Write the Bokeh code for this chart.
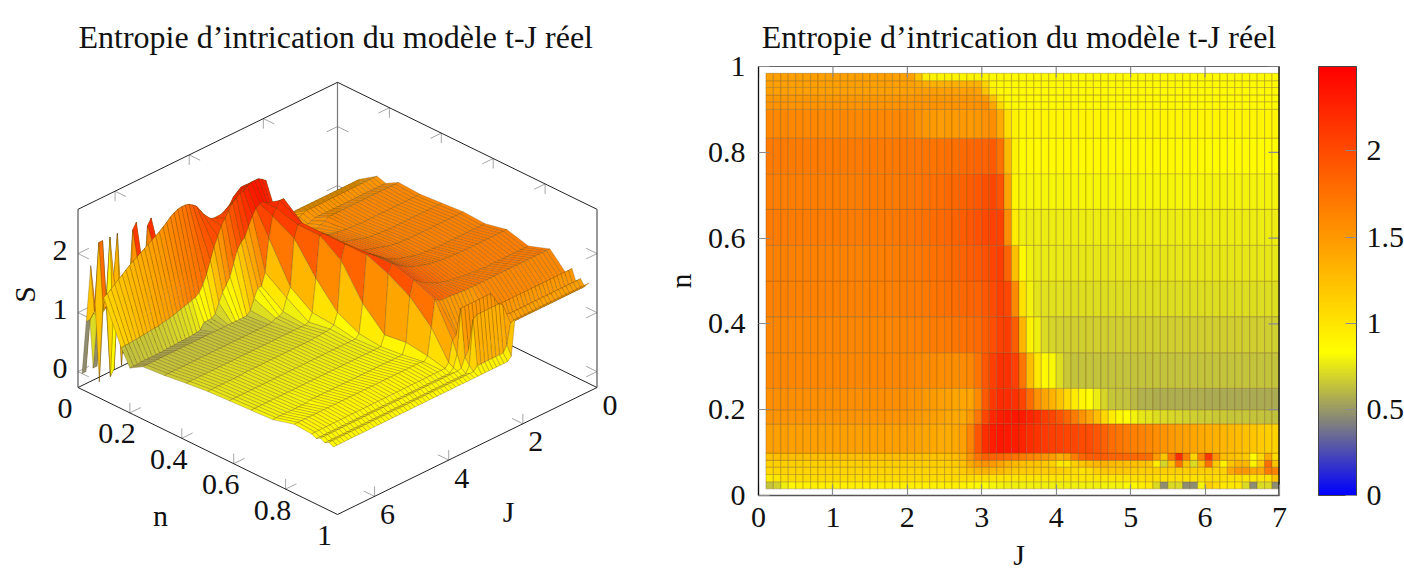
import numpy as np
from bokeh.plotting import figure
from bokeh.layouts import row
from bokeh.models import (ColumnDataSource, LinearColorMapper, ColorBar, FixedTicker, Range1d)
from bokeh.core.properties import value
from bokeh.embed import file_html
from bokeh.resources import INLINE

TITLE = "Entropie d’intrication du modèle t-J réel"
J_values = [0.1,0.2,0.3,0.4,0.5,0.6,0.7,0.8,0.9,1.0,1.1,1.2,1.3,1.4,1.5,1.6,1.7,1.8,1.9,2.0,
            2.1,2.2,2.3,2.4,2.5,2.6,2.7,2.8,2.9,3.0,3.1,3.2,3.3,3.4,3.5,3.6,3.7,3.8,3.9,4.0,
            4.1,4.2,4.3,4.4,4.5,4.6,4.7,4.8,4.9,5.0,5.1,5.2,5.3,5.4,5.5,5.6,5.7,5.8,5.9,6.0,
            6.1,6.2,6.3,6.4,6.5,6.6,6.7,6.8,6.9,7.0]
n_values = [0.0156,0.032,0.049,0.066,0.082,0.099,0.167,0.2,0.25,0.333,0.417,0.5,0.583,0.667,0.75,0.833,0.9,0.918,0.934,0.951,0.967,0.984]

S_n0156 = [.40,.42,.50,.70,.80,.82,.82,.84,.84,.84, .84,.84,.84,.84,.84,.84,.84,.84,.84,.84,
           .84,.84,.84,.84,.84,.84,.82,.82,.80,.78, .76,.76,.75,.75,.75,.75,.75,.75,.75,.75,
           .75,.75,.75,.75,.75,.76,.76,.76,.78,.78, .90,.95,.95,0,0,.95,0,0,0,1.3,
           1.3,.95,.95,.95,.95,0,0,.95,0,0]
S_n032 = [.85,.88,.95,1.0,1.02,1.02,1.02,1.02,1.02,1.02, 1.02,1.02,1.02,1.02,1.02,1.02,1.02,1.02,1.02,1.02,
          1.02,1.02,1.02,1.02,1.02,1.02,1.02,1.0,.95,.9, .85,.84,.83,.82,.82,.82,.82,.82,.82,.82,
          .82,.82,.82,.82,.82,.82,.82,.82,.82,.85, .95,.98,1.0,.92,.92,1.0,.92,.92,.92,1.0,
          1.0,1.0,1.0,1.0,1.0,.92,.92,1.0,.92,.92]
S_n049 = [1.02,1.05,1.08,1.1,1.1,1.1,1.1,1.1,1.1,1.1, 1.1,1.1,1.1,1.1,1.1,1.1,1.1,1.1,1.1,1.1,
          1.1,1.1,1.1,1.1,1.1,1.1,1.1,1.12,1.15,1.18, 1.18,1.18,1.18,1.18,1.18,1.18,1.18,1.18,1.18,1.18,
          1.18,1.18,1.18,1.18,1.18,1.18,1.18,1.18,1.18,1.15, 1.12,1.12,1.12,1.12,1.12,1.12,1.12,1.12,1.12,1.12,
          1.1,1.1,1.1,1.05,1.05,1.05,1.05,1.05,1.1,1.9]
S_n066 = [1.13,1.13,1.13,1.13,1.13,1.13,1.13,1.13,1.13,1.13, 1.13,1.13,1.13,1.13,1.13,1.13,1.13,1.13,1.13,1.13,
          1.13,1.13,1.13,1.13,1.13,1.13,1.15,1.3,1.4,1.45, 1.45,1.4,1.35,1.2,1.15,1.15,1.15,1.15,1.15,1.15,
          1.05,1.0,.85,.85,1.0,1.2,1.2,1.2,1.2,1.2, 1.15,1.15,1.15,1.15,1.15,1.15,1.15,1.15,1.15,1.15,
          1.15,1.15,1.15,2.3,1.6,2.3,1.2,2.3,2.3,1.3]
S_n082 = [1.12,1.15,1.15,1.15,1.15,1.15,1.15,1.15,1.15,1.15, 1.15,1.15,1.15,1.15,1.15,1.15,1.15,1.15,1.15,1.15,
          1.15,1.15,1.15,1.15,1.15,1.15,1.2,1.3,1.5,1.6, 1.6,1.5,1.45,1.4,1.35,1.3,1.3,1.25,1.2,1.0,
          .7,1.2,1.5,1.6,1.55,1.5,1.4,1.3,1.3,1.3, 1.3,1.3,1.25,.3,.2,2.35,2.25,.3,.25,2.4,
          2.3,.1,1.3,.1,1.25,.1,0,1.2,1.25,0]
S_n099 = [1.35,1.35,1.35,1.35,1.35,1.35,1.35,1.35,1.35,1.35, 1.35,1.35,1.35,1.35,1.35,1.35,1.35,1.35,1.35,1.35,
          1.34,1.33,1.32,1.32,1.32,1.34,1.4,1.5,1.75,2.1, 2.15,2.2,2.2,2.15,2.1,2.0,1.95,1.85,1.85,1.85,
          1.9,1.95,2.05,2.15,2.25,2.3,2.34,2.36,2.36,2.35, 2.32,2.28,2.22,2.17,2.12,2.08,2.04,2.0,1.96,1.92,
          1.88,1.84,1.8,1.75,1.7,1.65,1.6,1.55,1.5,1.47]
S_n167 = [1.55,1.55,1.55,1.55,1.55,1.55,1.55,1.55,1.55,1.55, 1.55,1.55,1.55,1.55,1.55,1.55,1.55,1.55,1.55,1.55,
          1.53,1.5,1.48,1.46,1.44,1.42,1.42,1.45,1.8,2.1, 2.4,2.45,2.49,2.49,2.49,2.45,2.4,2.4,2.35,2.3,
          2.2,2.1,2.0,1.85,1.7,1.5,1.3,1.15,1.05,1.0, .98,.96,.94,.92,.9,.88,.86,.85,.84,.82,
          .82,.81,.8,.8,.79,.78,.78,.77,.77,.76]
S_n200 = [1.5,1.5,1.5,1.5,1.5,1.5,1.5,1.5,1.5,1.5, 1.5,1.5,1.5,1.5,1.5,1.5,1.5,1.5,1.5,1.5,
          1.48,1.46,1.44,1.42,1.4,1.38,1.36,1.36,1.38,1.6, 2.0,2.1,2.15,2.2,2.2,2.15,2.05,1.9,1.75,1.7,
          1.6,1.4,1.2,1.1,1.0,.85,.7,.65,.65,.65, .55,.54,.53,.52,.52,.52,.52,.51,.51,.51,
          .5,.5,.5,.5,.5,.5,.5,.49,.49,.49]
S_n250 = [1.62,1.62,1.62,1.62,1.62,1.62,1.62,1.62,1.62,1.62, 1.62,1.62,1.62,1.62,1.62,1.62,1.62,1.62,1.62,1.62,
          1.58,1.55,1.52,1.5,1.48,1.46,1.45,1.45,1.5,1.9, 2.1,2.3,2.3,2.2,2.1,1.75,1.2,1.0,1.0,.85,
          .68,.62,.62,.62,.62,.62,.62,.62,.62,.62, .62,.62,.62,.62,.62,.62,.62,.62,.62,.62,
          .62,.62,.62,.62,.62,.62,.62,.62,.62,.62]
S_n333 = [1.6,1.6,1.6,1.6,1.6,1.6,1.6,1.6,1.6,1.6, 1.6,1.6,1.6,1.6,1.6,1.6,1.6,1.61,1.61,1.62,
          1.62,1.63,1.64,1.65,1.66,1.68,1.7,1.72,1.75,1.8, 1.9,2.0,2.1,2.1,1.9,1.1,.95,.75,.7,.7,
          .66,.65,.65,.65,.65,.65,.65,.65,.65,.65, .65,.65,.65,.65,.65,.65,.65,.65,.65,.65,
          .65,.65,.65,.65,.65,.65,.65,.65,.65,.65]
S_n417 = [1.63,1.63,1.63,1.63,1.63,1.63,1.63,1.63,1.63,1.63, 1.63,1.63,1.63,1.63,1.63,1.63,1.64,1.64,1.65,1.65,
          1.66,1.68,1.7,1.72,1.74,1.76,1.78,1.8,1.82,1.85, 1.95,2.05,2.1,2.1,1.4,.85,.72,.7,.7,.7,
          .7,.7,.7,.7,.7,.7,.7,.7,.7,.7, .7,.7,.7,.7,.7,.7,.7,.7,.7,.7,
          .7,.7,.7,.7,.7,.7,.7,.7,.7,.7]
S_n500 = [1.66,1.66,1.66,1.66,1.66,1.66,1.66,1.66,1.66,1.66, 1.66,1.66,1.66,1.66,1.66,1.66,1.67,1.67,1.68,1.69,
          1.7,1.72,1.74,1.76,1.78,1.8,1.82,1.84,1.86,1.88, 1.95,2.05,2.1,1.85,1.0,.82,.78,.77,.77,.76,
          .76,.75,.75,.75,.75,.75,.75,.75,.75,.75, .75,.75,.75,.75,.75,.75,.75,.75,.75,.75,
          .74,.74,.74,.74,.74,.74,.74,.74,.74,.74]
S_n583 = [1.64,1.64,1.64,1.64,1.64,1.64,1.64,1.64,1.64,1.64, 1.64,1.64,1.64,1.64,1.65,1.65,1.66,1.66,1.67,1.68,
          1.7,1.72,1.74,1.76,1.78,1.81,1.84,1.88,1.93,1.98, 2.03,2.08,2.1,1.3,.82,.76,.76,.76,.76,.76,
          .76,.76,.76,.76,.76,.76,.76,.76,.76,.76, .76,.76,.76,.76,.76,.76,.76,.76,.76,.76,
          .76,.76,.76,.76,.76,.76,.76,.76,.76,.76]
S_n667 = [1.72,1.72,1.72,1.72,1.72,1.72,1.72,1.72,1.72,1.72, 1.72,1.72,1.72,1.72,1.73,1.73,1.74,1.74,1.75,1.76,
          1.77,1.78,1.8,1.82,1.84,1.86,1.89,1.92,1.96,2.0, 2.05,2.1,1.95,.95,.78,.78,.78,.78,.78,.78,
          .78,.78,.78,.78,.78,.78,.78,.78,.78,.78, .78,.78,.78,.78,.78,.78,.78,.78,.78,.78,
          .78,.78,.78,.78,.78,.78,.78,.78,.78,.78]
S_n750 = [1.62,1.62,1.62,1.62,1.62,1.62,1.62,1.62,1.62,1.62, 1.62,1.62,1.62,1.63,1.63,1.64,1.64,1.65,1.66,1.67,
          1.68,1.69,1.7,1.72,1.74,1.76,1.79,1.82,1.86,1.9, 1.95,2.0,1.75,1.0,.82,.82,.82,.82,.82,.82,
          .82,.82,.82,.82,.82,.82,.82,.82,.82,.82, .82,.82,.82,.82,.82,.82,.82,.82,.82,.82,
          .8,.8,.8,.8,.8,.8,.8,.8,.8,.8]
S_n833 = [1.75,1.75,1.75,1.75,1.75,1.75,1.75,1.75,1.75,1.75, 1.75,1.75,1.75,1.75,1.75,1.75,1.75,1.75,1.75,1.75,
          1.75,1.75,1.75,1.75,1.76,1.76,1.77,1.78,1.78,1.78, 1.8,1.85,1.4,.95,.88,.9,.9,.9,.9,.9,
          .9,.9,.9,.9,.9,.9,.9,.9,.9,.9, .9,.9,.9,.9,.9,.9,.9,.9,.9,.9,
          .9,.9,.9,.9,.9,.9,.9,.9,.9,.9]
S_n900 = [1.45,1.45,1.45,1.45,1.45,1.45,1.45,1.45,1.45,1.45, 1.45,1.45,1.45,1.45,1.45,1.45,1.45,1.45,1.45,1.45,
          1.42,1.3,1.22,1.2,1.2,1.2,1.2,1.2,1.2,1.25, 1.35,1.3,.95,.88,.88,.88,.88,.88,.88,.88,
          .88,.88,.88,.88,.88,.88,.88,.88,.88,.88, .88,.88,.88,.88,.88,.88,.88,.88,.88,.88,
          .88,.88,.88,.88,.88,.88,.88,.88,.88,.88]
S_n918 = [1.6,1.6,1.6,1.6,1.6,1.6,1.6,1.6,1.6,1.6, 1.6,1.6,1.6,1.6,1.6,1.6,1.6,1.6,1.6,1.6,
          1.62,1.75,1.85,1.85,1.85,1.85,1.85,1.85,1.85,1.85, 1.85,1.1,.9,.84,.84,.84,.84,.84,.84,.84,
          .84,.84,.84,.84,.84,.84,.84,.84,.84,.84, .84,.84,.84,.84,.84,.84,.84,.84,.84,.84,
          .84,.84,.84,.84,.84,.84,.84,.84,.84,.84]
S_n934 = [1.4,1.4,1.4,1.4,1.4,1.4,1.4,1.4,1.4,1.4, 1.4,1.4,1.4,1.4,1.4,1.4,1.4,1.4,1.4,1.4,
          1.38,1.25,1.2,1.15,1.15,1.15,1.15,1.15,1.15,1.15, 1.05,.9,.88,.88,.88,.88,.88,.88,.88,.88,
          .88,.88,.88,.88,.88,.88,.88,.88,.88,.88, .88,.88,.88,.88,.88,.88,.88,.88,.88,.88,
          .88,.88,.88,.88,.88,.88,.88,.88,.88,.88]
S_n951 = [1.5,1.5,1.5,1.5,1.5,1.5,1.5,1.5,1.5,1.5, 1.5,1.5,1.5,1.5,1.5,1.5,1.5,1.5,1.5,1.5,
          1.52,1.7,1.75,1.75,1.75,1.75,1.75,1.75,1.75,1.7, .95,.84,.84,.84,.84,.84,.84,.84,.84,.84,
          .84,.84,.84,.84,.84,.84,.84,.84,.84,.84, .84,.84,.84,.84,.84,.84,.84,.84,.84,.84,
          .84,.84,.84,.84,.84,.84,.84,.84,.84,.84]
S_n967 = [1.4,1.4,1.4,1.4,1.4,1.4,1.4,1.4,1.4,1.4, 1.4,1.4,1.4,1.4,1.4,1.4,1.4,1.4,1.4,1.4,
          1.4,1.05,.95,.95,.95,.95,.95,.95,.95,.95, .88,.88,.88,.88,.88,.88,.88,.88,.88,.88,
          .88,.88,.88,.88,.88,.88,.88,.88,.88,.88, .88,.88,.88,.88,.88,.88,.88,.88,.88,.88,
          .88,.88,.88,.88,.88,.88,.88,.88,.88,.88]
S_n984 = [1.5,1.5,1.5,1.5,1.5,1.5,1.5,1.5,1.5,1.5, 1.5,1.5,1.5,1.5,1.5,1.5,1.5,1.5,1.5,1.5,
          1.5,.9,.84,.84,.84,.84,.84,.84,.84,.84, .84,.84,.84,.84,.84,.84,.84,.84,.84,.84,
          .84,.84,.84,.84,.84,.84,.84,.84,.84,.84, .84,.84,.84,.84,.84,.84,.84,.84,.84,.84,
          .84,.84,.84,.84,.84,.84,.84,.84,.84,.84]

S_rows = [S_n0156,S_n032,S_n049,S_n066,S_n082,S_n099,S_n167,S_n200,S_n250,S_n333,S_n417,S_n500,
          S_n583,S_n667,S_n750,S_n833,S_n900,S_n918,S_n934,S_n951,S_n967,S_n984]

n_ticks = [0,0.2,0.4,0.6,0.8,1]
n_tick_labels = ["0","0.2","0.4","0.6","0.8","1"]
J_ticks_3d = [0,2,4,6]
J_ticks_2d = [0,1,2,3,4,5,6,7]
S_ticks = [0,1,2]
cb_ticks = [0,0.5,1,1.5,2]
cb_tick_labels = ["0","0.5","1","1.5","2"]
S_MAX = 2.49

FONT = "Liberation Serif"
FS = "30px"
TS = "32px"
TICK = "#8c8c8c"
INK = "#111111"
LEFT_W = 660

def pal():
    stops = [(0.0,(0,0,255)),(1/6,(128,128,128)),(1/3,(255,255,0)),(1.0,(255,0,0))]
    out = []
    for i in range(256):
        t = i/255
        for (a,ca),(b,cb) in zip(stops[:-1],stops[1:]):
            if t <= b:
                f = (t-a)/(b-a)
                c = [int(round(ca[k]+(cb[k]-ca[k])*f)) for k in range(3)]
                out.append("#%02x%02x%02x" % tuple(c))
                break
    return out
mapper = LinearColorMapper(palette=pal(), low=0, high=S_MAX)

S = np.array(S_rows, dtype=float)
assert S.shape == (len(n_values), len(J_values))
N = np.array(n_values); Jv = np.array(J_values)
mean = (S[:-1,:-1]+S[1:,:-1]+S[:-1,1:]+S[1:,1:])/4

ZMIN, ZMAX = -0.27, 2.75
def proj(n, J, z):
    v = np.asarray(J, dtype=float)/7
    n = np.asarray(n, dtype=float)
    return 337+259.5*(n-v), 256+127*(n+v)-59*(np.asarray(z, dtype=float)-ZMIN)

L = figure(frame_width=LEFT_W, frame_height=509, output_backend="svg", toolbar_location=None,
           x_range=Range1d(0,LEFT_W), y_range=Range1d(571,62), x_axis_location=None, y_axis_location=None,
           min_border_left=0, min_border_right=0, min_border_bottom=0, min_border_top=62)
L.grid.visible = False
L.outline_line_color = None
L.title.text = TITLE
L.title.align = "left"
L.title.offset = 78
L.title.text_font = FONT
L.title.text_font_size = TS
L.title.text_font_style = "normal"
L.title.text_color = INK
L.title.standoff = 24

def seg(pairs, color, width):
    xs, ys = [], []
    for a, b in pairs:
        x, y = proj([a[0],b[0]],[a[1],b[1]],[a[2],b[2]])
        xs.append(list(x)); ys.append(list(y))
    L.multi_line(xs, ys, line_color=color, line_width=width)

DL, DZ = 0.042, 0.17
tk = []
for z in S_ticks:
    tk += [((0,7,z),(DL,7,z)),((0,7,z),(0,7-7*DL,z))]
    tk += [((1,0,z),(1-DL,0,z)),((1,0,z),(1,7*DL,z))]
    tk += [((0,0,z),(DL,0,z)),((0,0,z),(0,7*DL,z))]
for t in [0.2,0.4,0.6,0.8]:
    tk += [((t,7,ZMIN),(t,7,ZMIN+DZ)),((t,7,ZMIN),(t,7-7*DL,ZMIN))]
    tk += [((t,0,ZMAX),(t,0,ZMAX-DZ)),((t,0,ZMAX),(t,7*DL,ZMAX))]
for t in [2,4,6]:
    tk += [((1,t,ZMIN),(1,t,ZMIN+DZ)),((1,t,ZMIN),(1-DL,t,ZMIN))]
    tk += [((0,t,ZMAX),(0,t,ZMAX-DZ)),((0,t,ZMAX),(DL,t,ZMAX))]
seg(tk, "#a6a6a6", 1)
seg([((0,0,ZMIN),(0,0,ZMAX))], "#777777", 1.2)
seg([((0,7,ZMIN),(0,0,ZMIN)),((0,0,ZMIN),(1,0,ZMIN))], "#222222", 1)

xs3, ys3, vals, depth = [], [], [], []
for i in range(len(n_values)-1):
    for j in range(len(J_values)-1):
        nn = [N[i],N[i+1],N[i+1],N[i]]
        jj = [Jv[j],Jv[j],Jv[j+1],Jv[j+1]]
        zz = [S[i,j],S[i+1,j],S[i+1,j+1],S[i,j+1]]
        x, y = proj(nn, jj, zz)
        xs3.append(list(x)); ys3.append(list(y)); vals.append(float(mean[i,j]))
        depth.append(np.mean(nn)+np.mean(jj)/7)
order = np.argsort(depth, kind="stable")
src3 = ColumnDataSource(dict(xs=[xs3[k] for k in order], ys=[ys3[k] for k in order], s=[vals[k] for k in order]))
L.patches("xs","ys",source=src3, fill_color={"field":"s","transform":mapper},
          line_color="#604000", line_alpha=0.28, line_width=1.0)

seg([((0,7,ZMIN),(1,7,ZMIN)),((1,7,ZMIN),(1,0,ZMIN)),((0,7,ZMAX),(0,0,ZMAX)),((0,0,ZMAX),(1,0,ZMAX))], "#222222", 1)
seg([((0,7,ZMIN),(0,7,ZMAX)),((1,0,ZMIN),(1,0,ZMAX))], "#555555", 1.2)

def labels(x, y, txt, dx=0, dy=0, angle=0):
    L.text(np.asarray(x)+dx, np.asarray(y)+dy, text=txt, text_font=value(FONT), text_font_size=value(FS),
           text_align="center", text_baseline="middle", text_color=INK, angle=angle)
x, y = proj(n_ticks, [7]*len(n_ticks), [ZMIN]*len(n_ticks))
labels(x, y, n_tick_labels, -13, 21)
x, y = proj([1]*len(J_ticks_3d), J_ticks_3d, [ZMIN]*len(J_ticks_3d))
labels(x, y, [str(t) for t in J_ticks_3d], 13, 18)
x, y = proj([0]*len(S_ticks), [7]*len(S_ticks), S_ticks)
labels(x, y, [str(t) for t in S_ticks], -18, -3)
labels([160],[511],["n"])
labels([508],[507],["J"])
labels([24],[290],["S"], angle=np.pi/2)

R = figure(frame_width=521, frame_height=429, output_backend="svg", toolbar_location=None,
           x_range=Range1d(0,7), y_range=Range1d(0,1),
           min_border_left=90, min_border_right=125, min_border_top=66, min_border_bottom=76)
R.grid.visible = False
R.outline_line_color = "#666666"
R.title.text = TITLE
R.title.align = "center"
R.title.text_font = FONT
R.title.text_font_size = TS
R.title.text_font_style = "normal"
R.title.text_color = INK
R.title.text_line_height = 1.6
R.title.standoff = 24

lft, rgt, bot, top, sv = [], [], [], [], []
for i in range(len(n_values)-1):
    for j in range(len(J_values)-1):
        lft.append(J_values[j]); rgt.append(J_values[j+1]); bot.append(n_values[i]); top.append(n_values[i+1])
        sv.append(float(mean[i,j]))
R.quad(left="left", right="right", bottom="bottom", top="top", fill_color={"field":"s","transform":mapper},
       source=ColumnDataSource(dict(left=lft,right=rgt,bottom=bot,top=top,s=sv)),
       line_color="#604000", line_alpha=0.24, line_width=1.2)

TLX, TLY = 0.148, 0.0256
R.segment(J_ticks_2d, [1]*len(J_ticks_2d), J_ticks_2d, [1-TLY]*len(J_ticks_2d), line_color=TICK, line_width=1.2)
R.segment([7]*len(n_ticks), n_ticks, [7-TLX]*len(n_ticks), n_ticks, line_color=TICK, line_width=1.2)
R.segment([7],[0],[7],[1], line_color=INK, line_width=2.4)

def style(ax, ticks, line):
    ax.ticker = FixedTicker(ticks=ticks)
    ax.major_tick_in = 11
    ax.major_tick_out = 0
    ax.minor_tick_line_color = None
    ax.major_tick_line_color = TICK
    ax.major_tick_line_width = 1.2
    ax.axis_line_color = line
    ax.axis_line_width = 1.3
    ax.major_label_text_font = FONT
    ax.major_label_text_font_size = FS
    ax.major_label_text_color = INK
    ax.axis_label_text_font = FONT
    ax.axis_label_text_font_size = FS
    ax.axis_label_text_font_style = "normal"
    ax.axis_label_text_color = INK

bx = R.xaxis[0]; by = R.yaxis[0]
style(bx, J_ticks_2d, "#555555")
bx.major_label_overrides = {t: str(t) for t in J_ticks_2d}
bx.axis_label = "J"; bx.major_label_standoff = 12; bx.axis_label_standoff = 8
style(by, n_ticks, INK)
by.major_label_overrides = dict(zip(n_ticks, n_tick_labels))
by.axis_label = "n"; by.major_label_standoff = 13; by.axis_label_standoff = 8

cb = ColorBar(color_mapper=mapper, ticker=FixedTicker(ticks=cb_ticks), width=38, height=429,
              major_label_overrides=dict(zip(cb_ticks, cb_tick_labels)),
              major_label_text_font=FONT, major_label_text_font_size=FS, major_label_text_color=INK,
              major_tick_line_color=TICK, major_tick_in=11, minor_tick_line_color=None,
              bar_line_color="#444444", bar_line_width=1, margin=0, padding=0, location=(39,0), label_standoff=10)
R.add_layout(cb, "right")

open("out.html","w").write(file_html(row(L,R), INLINE))
